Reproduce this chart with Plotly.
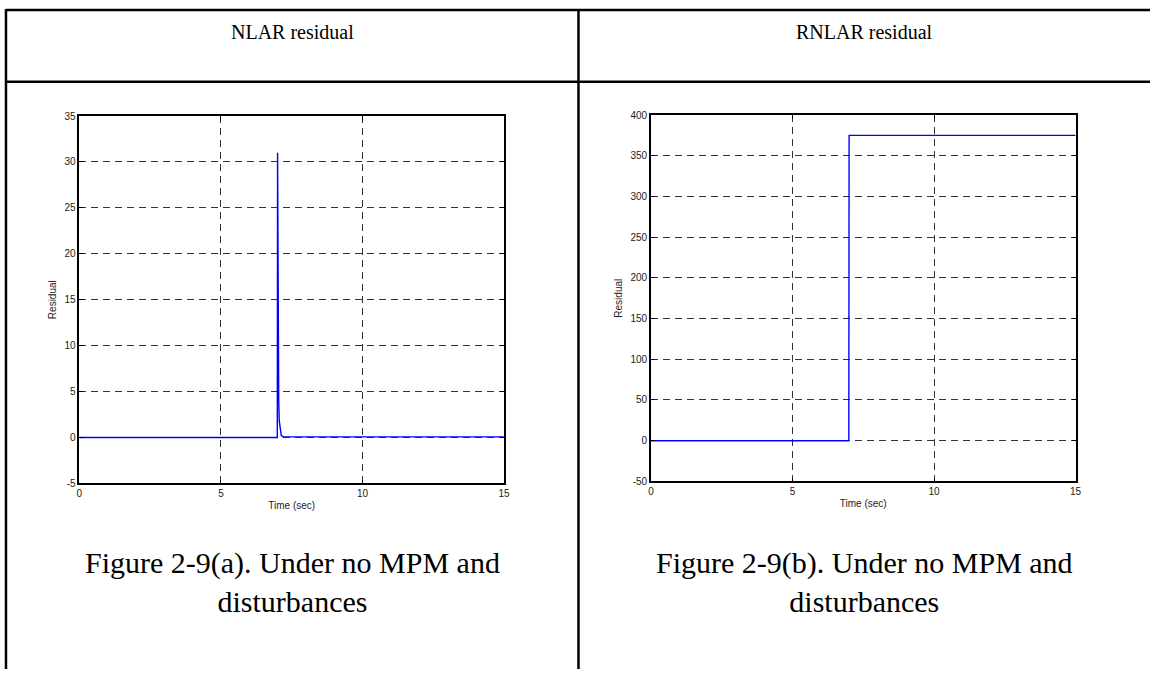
import plotly.graph_objects as go

W, H = 1156, 675

# NLAR residual: short spike when the fault appears at t = 7 s
t_nlar = [0, 6.0, 6.99, 7.0, 7.01, 7.02, 7.04, 7.06, 7.09, 7.13, 7.2, 10.0, 15.0]
r_nlar = [0, 0.0, 0.0, 31.0, 18.0, 9.0, 4.0, 1.8, 0.7, 0.2, 0.08, 0.06, 0.06]

# RNLAR residual: step to a constant level after t = 7 s
t_rnlar = [0, 6.99, 7.0, 15.0]
r_rnlar = [0, 0, 375, 375]

x_ticks = [0, 5, 10, 15]
y_ticks_nlar = [-5, 0, 5, 10, 15, 20, 25, 30, 35]
y_ticks_rnlar = [-50, 0, 50, 100, 150, 200, 250, 300, 350, 400]

headers = ["NLAR residual", "RNLAR residual"]
captions = ["Figure 2-9(a). Under no MPM and<br>disturbances",
            "Figure 2-9(b). Under no MPM and<br>disturbances"]


def px_x(p):
    return p / W


def px_y(p):
    return 1 - p / H


fig = go.Figure()
fig.add_trace(go.Scatter(x=t_nlar, y=r_nlar, mode="lines",
                         line=dict(color="#0000ff", width=1.4),
                         xaxis="x", yaxis="y", showlegend=False))
fig.add_trace(go.Scatter(x=t_rnlar, y=r_rnlar, mode="lines",
                         line=dict(color="#0000ff", width=1.4),
                         xaxis="x2", yaxis="y2", showlegend=False))

tick_font = dict(family="Liberation Sans", size=10, color="#222")
grid = dict(showgrid=True, gridcolor="#333", gridwidth=1, griddash="7px,5px",
            zeroline=False, showline=True, linecolor="black", linewidth=1.5,
            mirror="ticks", ticks="inside", ticklen=4, tickcolor="black",
            tickfont=tick_font, fixedrange=True)

xa = dict(range=[0, 15], tickvals=x_ticks, ticktext=[str(v) for v in x_ticks], **grid)
fig.update_layout(
    xaxis=dict(domain=[px_x(77), px_x(505)], anchor="y",
               title=dict(text="Time (sec)", font=tick_font, standoff=4), **xa),
    yaxis=dict(domain=[px_y(486), px_y(112)], anchor="x", range=[-5, 35],
               tickvals=y_ticks_nlar, ticktext=[str(v) for v in y_ticks_nlar],
               title=dict(text="Residual", font=tick_font, standoff=6), **grid),
    xaxis2=dict(domain=[px_x(653), px_x(1081)], anchor="y2",
                title=dict(text="Time (sec)", font=tick_font, standoff=4), **xa),
    yaxis2=dict(domain=[px_y(484), px_y(111)], anchor="x2", range=[-50, 400],
                tickvals=y_ticks_rnlar, ticktext=[str(v) for v in y_ticks_rnlar],
                title=dict(text="Residual", font=tick_font, standoff=6), **grid),
)

# Table frame around the two panels
line = dict(color="black", width=2.5)
shapes = [
    dict(type="line", xref="paper", yref="paper", x0=px_x(3), x1=1, y0=px_y(4), y1=px_y(4), line=line),
    dict(type="line", xref="paper", yref="paper", x0=px_x(3), x1=1, y0=px_y(77), y1=px_y(77), line=line),
    dict(type="line", xref="paper", yref="paper", x0=px_x(3), x1=px_x(3), y0=px_y(3), y1=0, line=line),
    dict(type="line", xref="paper", yref="paper", x0=px_x(580), x1=px_x(580), y0=px_y(3), y1=0, line=line),
]

serif = "Liberation Serif"
annotations = []
for cx, head, cap in zip([292, 868], headers, captions):
    annotations.append(dict(text=head, x=px_x(cx), y=px_y(26), xref="paper", yref="paper",
                            showarrow=False, xanchor="center", yanchor="middle",
                            font=dict(family=serif, size=20, color="black")))
    annotations.append(dict(text=cap, x=px_x(cx), y=px_y(586), xref="paper", yref="paper",
                            showarrow=False, xanchor="center", yanchor="middle",
                            font=dict(family=serif, size=30, color="black")))

fig.update_layout(width=W, height=H, margin=dict(l=0, r=0, t=0, b=0),
                  paper_bgcolor="white", plot_bgcolor="white",
                  shapes=shapes, annotations=annotations, showlegend=False)

fig.write_html("out.html", config={"displayModeBar": False})
